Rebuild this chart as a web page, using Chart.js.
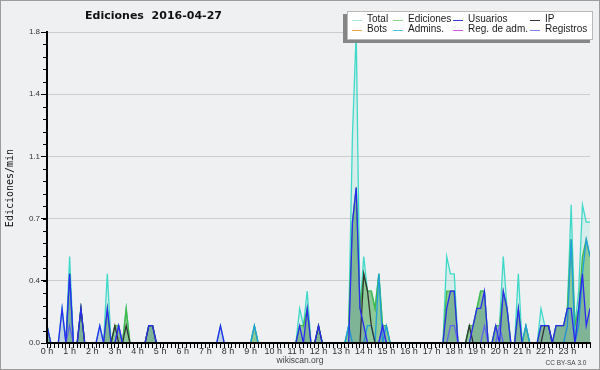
<!DOCTYPE html>
<html>
<head>
<meta charset="utf-8">
<script src="https://cdn.jsdelivr.net/npm/chart.js@4"></script>
<style>
  html, body { margin: 0; padding: 0; background: #eff0f1; }
  #wrap { width: 600px; height: 370px; }
</style>
</head>
<body>
<div id="wrap"><canvas id="editsChart" width="600" height="370"></canvas></div>
<script>
// Edits per minute, one value per 10-minute slot (0 h .. 24 h, 145 slots)
const total = [
    0.1,0,0,0,0.2,0,0.5,0,0,0.2,0,0,0,0,0.1,0,0.4,0,0.1,0.1,0,0.2,0,0,
    0,0,0,0.1,0.1,0,0,0,0,0,0,0,0,0,0,0,0,0,0,0,0,0,0.1,0,
    0,0,0,0,0,0,0,0.1,0,0,0,0,0,0,0,0,0,0,0,0.2,0.1,0.3,0,0,
    0.1,0,0,0,0,0,0,0,0.1,1.2,1.8,0.2,0.5,0.3,0.3,0.2,0.4,0.1,0.1,0,0,0,0,0,
    0,0,0,0,0,0,0,0,0,0,0.5,0.4,0.4,0,0,0,0.1,0.1,0.2,0.3,0.3,0,0,0.1,
    0.1,0.5,0.2,0,0,0.4,0,0.1,0,0,0,0.2,0.1,0.1,0,0.1,0.1,0.1,0.2,0.8,0.1,0.3,0.8,0.7,
    0.7
];
const ediciones = [
    0.1,0,0,0,0,0,0.4,0,0,0.2,0,0,0,0,0,0,0.2,0,0.1,0.1,0,0.2,0,0,
    0,0,0,0.1,0.1,0,0,0,0,0,0,0,0,0,0,0,0,0,0,0,0,0,0,0,
    0,0,0,0,0,0,0,0.1,0,0,0,0,0,0,0,0,0,0,0,0.1,0.1,0.2,0,0,
    0.1,0,0,0,0,0,0,0,0.1,0.7,0.9,0.2,0.4,0.3,0.3,0.2,0.4,0.1,0.1,0,0,0,0,0,
    0,0,0,0,0,0,0,0,0,0,0.3,0.3,0.3,0,0,0,0.1,0.1,0.2,0.3,0.3,0,0,0.1,
    0.1,0.3,0.2,0,0,0.2,0,0.1,0,0,0,0.1,0.1,0.1,0,0.1,0.1,0.1,0.2,0.6,0.1,0.2,0.5,0.6,
    0.5
];
const usuarios = [
    0.1,0,0,0,0.2,0,0.4,0,0,0.2,0,0,0,0,0.1,0,0.2,0,0,0.1,0,0,0,0,
    0,0,0,0.1,0.1,0,0,0,0,0,0,0,0,0,0,0,0,0,0,0,0,0,0.1,0,
    0,0,0,0,0,0,0,0,0,0,0,0,0,0,0,0,0,0,0,0.1,0,0.2,0,0,
    0.1,0,0,0,0,0,0,0,0,0.7,0.9,0.2,0.1,0,0,0,0,0.1,0,0,0,0,0,0,
    0,0,0,0,0,0,0,0,0,0,0.2,0.3,0.3,0,0,0,0,0.1,0.2,0.2,0.3,0,0,0.1,
    0,0.3,0.2,0,0,0.2,0,0,0,0,0,0.1,0.1,0.1,0,0.1,0.1,0.1,0.2,0.2,0,0.2,0.4,0.1,
    0.2
];
const ip = [
    0,0,0,0,0,0,0,0,0,0.2,0,0,0,0,0,0,0,0,0.1,0,0,0.1,0,0,
    0,0,0,0.1,0.1,0,0,0,0,0,0,0,0,0,0,0,0,0,0,0,0,0,0,0,
    0,0,0,0,0,0,0,0,0,0,0,0,0,0,0,0,0,0,0,0,0,0,0,0,
    0.1,0,0,0,0,0,0,0,0,0,0,0,0.4,0.3,0.1,0,0,0,0,0,0,0,0,0,
    0,0,0,0,0,0,0,0,0,0,0,0,0,0,0,0,0.1,0,0,0,0,0,0,0,
    0,0,0,0,0,0,0,0,0,0,0,0,0.1,0.1,0,0,0,0,0,0,0,0,0,0,
    0
];
const admins = [
    0,0,0,0,0,0,0.4,0,0,0,0,0,0,0,0,0,0,0,0,0,0,0,0,0,
    0,0,0,0,0,0,0,0,0,0,0,0,0,0,0,0,0,0,0,0,0,0,0,0,
    0,0,0,0,0,0,0,0.1,0,0,0,0,0,0,0,0,0,0,0,0,0,0,0,0,
    0,0,0,0,0,0,0,0,0.1,0,0,0,0,0.1,0.1,0,0.4,0,0.1,0,0,0,0,0,
    0,0,0,0,0,0,0,0,0,0,0,0,0,0,0,0,0,0,0,0,0,0,0,0,
    0,0,0,0,0,0,0,0.1,0,0,0,0,0,0,0,0,0,0,0.1,0.6,0,0.1,0.4,0.6,
    0.5
];
const registros = [
    0,0,0,0,0,0,0.1,0,0,0,0,0,0,0,0,0,0,0,0,0.1,0,0,0,0,
    0,0,0,0,0,0,0,0,0,0,0,0,0,0,0,0,0,0,0,0,0,0,0,0,
    0,0,0,0,0,0,0,0,0,0,0,0,0,0,0,0,0,0,0,0,0,0,0,0,
    0,0,0,0,0,0,0,0,0,0,0,0,0,0,0,0,0,0.1,0,0,0,0,0,0,
    0,0,0,0,0,0,0,0,0,0,0,0.1,0.1,0,0,0,0,0,0,0,0.1,0,0,0,
    0.1,0,0,0,0,0,0,0,0,0,0,0,0,0,0,0,0,0,0,0,0,0,0,0,
    0
];

const hourLabels = ['0 h','1 h','2 h','3 h','4 h','5 h','6 h','7 h','8 h','9 h','10 h','11 h',
                    '12 h','13 h','14 h','15 h','16 h','17 h','18 h','19 h','20 h','21 h','22 h','23 h'];
const yTicks = [0, 0.36, 0.72, 1.08, 1.44, 1.8];
const yMinorStep = 0.072;
const slotsPerHour = 6;
const lastSlot = 144;

// legend entries (drawn in two rows, four columns)
const legendItems = [
    { label: 'Total', color: '#a4e5e1' },
    { label: 'Ediciones', color: '#8ed48e' },
    { label: 'Usuarios', color: '#3b3be0' },
    { label: 'IP', color: '#333333' },
    { label: 'Bots', color: '#f2a445' },
    { label: 'Admins.', color: '#52c9e2' },
    { label: 'Reg. de adm.', color: '#d456e0' },
    { label: 'Registros', color: '#8282f2' }
];

function toPoints(values) {
    return values.map((v, i) => ({ x: i, y: v }));
}

const decor = {
    id: 'decor',
    beforeDraw(chart) {
        const ctx = chart.ctx;
        ctx.save();
        ctx.fillStyle = '#eff0f1';
        ctx.fillRect(0, 0, chart.width, chart.height);
        ctx.restore();
    },
    afterDraw(chart) {
        const ctx = chart.ctx;
        const area = chart.chartArea;
        const ys = chart.scales.y;
        ctx.save();

        // minor ticks on the y axis
        ctx.strokeStyle = '#000';
        ctx.lineWidth = 1;
        ctx.beginPath();
        for (let v = 0; v <= 1.8 + 1e-9; v += yMinorStep) {
            const py = Math.round(ys.getPixelForValue(v)) + 0.5;
            ctx.moveTo(area.left - 4, py);
            ctx.lineTo(area.left, py);
        }
        ctx.stroke();

        // title
        ctx.fillStyle = '#111';
        ctx.font = 'bold 11px "DejaVu Sans"';
        ctx.textAlign = 'center';
        ctx.textBaseline = 'middle';
        ctx.fillText('Ediciones  2016-04-27', 153.5, 16);

        // y axis title
        ctx.save();
        ctx.translate(10, 188);
        ctx.rotate(-Math.PI / 2);
        ctx.font = '10px "DejaVu Sans Mono"';
        ctx.fillText('Ediciones/min', 0, 0);
        ctx.restore();

        // footer
        ctx.fillStyle = '#444';
        ctx.font = '8.5px "Liberation Sans"';
        ctx.fillText('wikiscan.org', 300, 361);
        ctx.font = '6.5px "Liberation Sans"';
        ctx.fillText('CC BY-SA 3.0', 566, 363);

        // legend box with shadow
        ctx.fillStyle = '#868686';
        ctx.fillRect(343, 14, 247, 29);
        ctx.fillStyle = '#ffffff';
        ctx.fillRect(347, 11, 246, 29);
        ctx.strokeStyle = '#b9b9b9';
        ctx.strokeRect(347.5, 11.5, 245, 28);

        const colX = [352, 393, 453, 530];
        const rowY = [19.5, 29.5];
        ctx.font = '10px "Liberation Sans"';
        ctx.textAlign = 'left';
        legendItems.forEach((item, k) => {
            const x = colX[k % 4];
            const y = rowY[Math.floor(k / 4)];
            ctx.strokeStyle = item.color;
            ctx.lineWidth = 1;
            ctx.beginPath();
            ctx.moveTo(x, Math.round(y) + 0.5);
            ctx.lineTo(x + 10, Math.round(y) + 0.5);
            ctx.stroke();
            ctx.fillStyle = '#1a1a1a';
            ctx.fillText(item.label, x + 15, y);
        });

        // outer frame
        ctx.strokeStyle = '#9c9c9c';
        ctx.lineWidth = 1;
        ctx.strokeRect(0.5, 0.5, chart.width - 1, chart.height - 1);
        ctx.restore();
    }
};

Chart.defaults.font.family = '"Liberation Sans", sans-serif';

const ctx = document.getElementById('editsChart').getContext('2d');
new Chart(ctx, {
    type: 'line',
    data: {
        datasets: [
            { label: 'Usuarios', data: toPoints(usuarios), borderColor: '#2a2af0',
              backgroundColor: 'rgba(30,30,150,0.12)', fill: 'origin' },
            { label: 'IP', data: toPoints(ip), borderColor: '#333333', fill: false },
            { label: 'Registros', data: toPoints(registros), borderColor: '#6c6cf6', fill: false },
            { label: 'Admins.', data: toPoints(admins), borderColor: '#1f9fe0', fill: false },
            { label: 'Ediciones', data: toPoints(ediciones), borderColor: '#45b845',
              backgroundColor: 'rgba(70,165,70,0.5)', fill: 'origin' },
            { label: 'Total', data: toPoints(total), borderColor: '#3fd9c9',
              backgroundColor: 'rgba(64,220,200,0.14)', fill: 'origin' }
        ]
    },
    options: {
        responsive: false,
        animation: false,
        layout: { padding: { left: 0, right: 10, top: 32, bottom: 0 } },
        elements: {
            point: { radius: 0 },
            line: { borderWidth: 1.3, tension: 0 }
        },
        plugins: {
            legend: { display: false },
            title: { display: false },
            tooltip: { enabled: false }
        },
        scales: {
            x: {
                type: 'linear',
                min: 0,
                max: lastSlot,
                afterFit: function (scale) { scale.height = 27; },
                afterBuildTicks: function (scale) {
                    const t = [];
                    for (let i = 0; i <= lastSlot; i++) t.push({ value: i });
                    scale.ticks = t;
                },
                ticks: {
                    autoSkip: false,
                    maxRotation: 0,
                    minRotation: 0,
                    padding: -2,
                    color: '#333',
                    font: { size: 9 },
                    callback: function (value) {
                        if (value % slotsPerHour !== 0) return '';
                        return hourLabels[value / slotsPerHour] || '';
                    }
                },
                grid: { drawOnChartArea: false, tickLength: 5, tickColor: '#000' },
                border: { color: '#000', width: 2, z: 1 }
            },
            y: {
                min: 0,
                max: 1.8,
                afterFit: function (scale) { scale.width = 47; },
                afterBuildTicks: function (scale) {
                    scale.ticks = yTicks.map(v => ({ value: v }));
                },
                ticks: {
                    padding: 1,
                    color: '#333',
                    font: { size: 8 },
                    callback: function (value) { return Number(value).toFixed(1); }
                },
                grid: { color: '#cdcdcd', tickColor: '#000', tickLength: 6 },
                border: { color: '#000', width: 2, z: 1 }
            }
        }
    },
    plugins: [decor]
});
</script>
</body>
</html>
